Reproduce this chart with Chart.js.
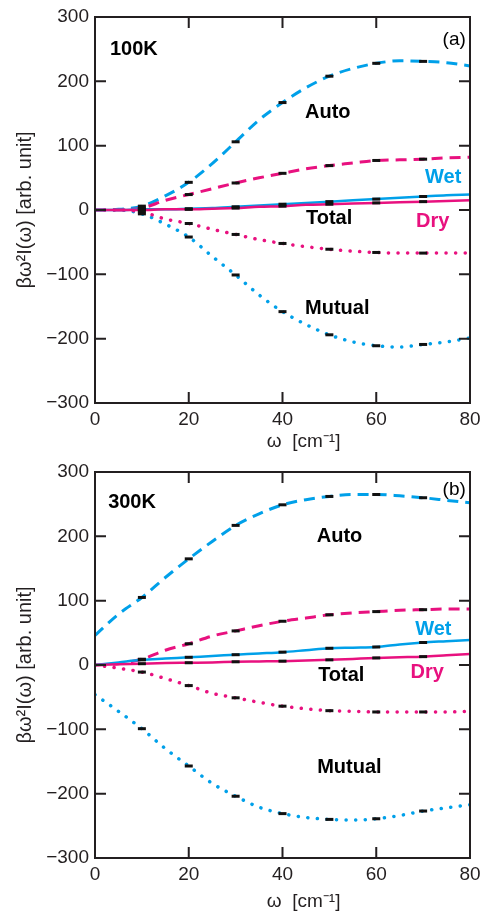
<!DOCTYPE html>
<html>
<head>
<meta charset="utf-8">
<script src="https://cdn.jsdelivr.net/npm/chart.js@4.4.0/dist/chart.umd.min.js"></script>
<style>
  html, body { margin: 0; padding: 0; background: #fff; }
  #wrap { position: relative; width: 480px; height: 915px; overflow: hidden; }
  .panel { position: absolute; left: 0; width: 480px; }
</style>
</head>
<body>
<div id="wrap">
  <div class="panel" style="top:0"><canvas id="chartA" width="480" height="455"></canvas></div>
  <div class="panel" style="top:455px"><canvas id="chartB" width="480" height="460"></canvas></div>
</div>
<script>
// frequency grid (cm-1)
const OMEGA = [0, 5, 10, 15, 20, 25, 30, 35, 40, 45, 50, 55, 60, 65, 70, 75, 80];
// points where the error bars sit
const ERR_OMEGA = [10, 20, 30, 40, 50, 60, 70];

// (a) 100K
const AUTO_WET_100   = [0, 1, 6, 22, 43, 72, 106, 140, 167, 190, 208, 220, 228, 232, 231, 229, 224];
const AUTO_DRY_100   = [0, 0, 3, 15, 24, 33, 42, 50, 57, 64, 69, 73, 77, 78, 79, 81, 82];
const TOTAL_WET_100  = [0, 0, 1, 1, 2, 3, 5, 7, 9, 11, 13, 15, 17, 19, 21, 23, 24];
const TOTAL_DRY_100  = [0, 0, 0, 1, 1, 2, 3, 5, 6, 8, 9, 10, 11, 12, 13, 14, 15];
const MUTUAL_DRY_100 = [0, 0, -3, -14, -21, -30, -38, -46, -52, -57, -61, -64, -66, -67, -67, -67, -67];
const MUTUAL_WET_100 = [0, 0, -6, -22, -42, -72, -101, -132, -158, -178, -194, -205, -211, -213, -209, -205, -199];

// (b) 300K
const AUTO_WET_300   = [46, 79, 105, 136, 165, 192, 217, 235, 249, 257, 262, 265, 265, 263, 260, 256, 252];
const AUTO_DRY_300   = [0, 2, 9, 23, 33, 45, 53, 61, 68, 73, 78, 81, 83, 85, 86, 87, 87];
const TOTAL_WET_300  = [0, 4, 8, 10, 12, 14, 16, 18, 20, 23, 26, 27, 28, 32, 35, 37, 39];
const TOTAL_DRY_300  = [0, 1, 2, 3, 3.5, 4, 5, 5.5, 6, 7, 8, 9.5, 11, 12, 13, 15, 17];
const MUTUAL_DRY_300 = [0, -5, -11, -21, -32, -44, -51, -58, -64, -68, -71, -72, -73, -73, -73, -73, -72];
const MUTUAL_WET_300 = [-46, -72, -99, -130, -157, -184, -204, -221, -231, -237, -240, -241, -239, -234, -227, -222, -217];

const X_TICKS = [0, 20, 40, 60, 80];
const Y_TICKS = [-300, -200, -100, 0, 100, 200, 300];

const INK = '#231f20';
const BLUE = '#00a0e9';
const PINK = '#e8117f';
const FONT = '"Liberation Sans", Arial, sans-serif';

Chart.defaults.font.family = FONT;
Chart.defaults.color = INK;

function toXY(vals) {
    return OMEGA.map((w, i) => ({ x: w, y: vals[i] }));
}

// black error-bar caps taken from the curves
function errorPoints(seriesList) {
    const pts = [];
    seriesList.forEach(vals => {
        ERR_OMEGA.forEach(w => {
            pts.push({ x: w, y: vals[OMEGA.indexOf(w)] });
        });
    });
    return pts;
}

function line(vals, color, kind) {
    const ds = {
        data: toXY(vals),
        showLine: true,
        borderColor: color,
        backgroundColor: color,
        pointRadius: 0,
        cubicInterpolationMode: 'monotone',
        borderWidth: 2.5,
        fill: false
    };
    if (kind === 'dash') {
        ds.borderDash = [11, 7];
        ds.borderWidth = 3;
    } else if (kind === 'dot') {
        ds.borderDash = [0.1, 9.5];
        ds.borderCapStyle = 'round';
        ds.borderWidth = 3.5;
    }
    return ds;
}

// frame with inward ticks on all four sides + text labels
const framePlugin = {
    id: 'frame',
    afterDatasetsDraw(chart, args, opts) {
        const { ctx, chartArea: a, scales: { x, y } } = chart;
        ctx.save();
        ctx.strokeStyle = INK;
        ctx.lineWidth = 2;
        ctx.strokeRect(a.left, a.top, a.right - a.left, a.bottom - a.top);
        ctx.beginPath();
        X_TICKS.forEach(v => {
            const px = x.getPixelForValue(v);
            ctx.moveTo(px, a.bottom); ctx.lineTo(px, a.bottom - 11);
            ctx.moveTo(px, a.top); ctx.lineTo(px, a.top + 11);
        });
        Y_TICKS.forEach(v => {
            const py = y.getPixelForValue(v);
            ctx.moveTo(a.left, py); ctx.lineTo(a.left + 11, py);
            ctx.moveTo(a.right, py); ctx.lineTo(a.right - 11, py);
        });
        ctx.stroke();

        ctx.textBaseline = 'middle';
        (opts.labels || []).forEach(l => {
            ctx.font = (l.bold === false ? '' : 'bold ') + (l.size || 20) + 'px ' + FONT;
            ctx.fillStyle = l.color || '#000';
            ctx.textAlign = l.align || 'left';
            ctx.fillText(l.text, x.getPixelForValue(l.x), y.getPixelForValue(l.y));
        });
        ctx.restore();
    }
};

function makeChart(id, s, labels, xAxisHeight) {
    const datasets = [
        {
            data: errorPoints([s.autoWet, s.autoDry, s.totalWet, s.totalDry, s.mutualDry, s.mutualWet]),
            showLine: false,
            pointStyle: 'line',
            pointRadius: 4,
            pointHoverRadius: 4,
            borderColor: '#111',
            borderWidth: 3
        },
        line(s.totalDry, PINK, 'solid'),
        line(s.totalWet, BLUE, 'solid'),
        line(s.autoDry, PINK, 'dash'),
        line(s.mutualDry, PINK, 'dot'),
        line(s.autoWet, BLUE, 'dash'),
        line(s.mutualWet, BLUE, 'dot')
    ];

    return new Chart(document.getElementById(id), {
        type: 'scatter',
        data: { datasets },
        options: {
            responsive: false,
            animation: false,
            devicePixelRatio: 1,
            layout: { padding: { top: 17, right: 10, bottom: 0, left: 0 } },
            plugins: {
                legend: { display: false },
                tooltip: { enabled: false },
                frame: { labels }
            },
            scales: {
                x: {
                    type: 'linear',
                    min: 0, max: 80,
                    afterBuildTicks(scale) { scale.ticks = X_TICKS.map(v => ({ value: v })); },
                    ticks: { padding: 5, color: INK, font: { size: 19 } },
                    grid: { display: false, drawTicks: false },
                    border: { display: false },
                    title: {
                        display: true,
                        text: '\u00a0\u00a0\u00a0\u00a0\u00a0\u00a0\u00a0\u00a0ω  [cm⁻¹]',
                        color: INK,
                        font: { size: 19 },
                        padding: { top: 0, bottom: 2 }
                    },
                    afterFit(scale) {
                        scale.height = xAxisHeight;
                        scale.paddingLeft = 0;
                        scale.paddingRight = 0;
                    }
                },
                y: {
                    type: 'linear',
                    min: -300, max: 300,
                    afterBuildTicks(scale) { scale.ticks = Y_TICKS.map(v => ({ value: v })); },
                    ticks: {
                        padding: 6,
                        color: INK,
                        font: { size: 19 },
                        callback: v => (v < 0 ? '\u2212' + Math.abs(v) : String(v))
                    },
                    grid: { display: false, drawTicks: false },
                    border: { display: false },
                    title: {
                        display: true,
                        text: 'βω²I(ω) [arb. unit]',
                        color: INK,
                        font: { size: 20 },
                        padding: { top: 13, bottom: 0 }
                    },
                    afterFit(scale) {
                        scale.width = 95;
                        scale.paddingTop = 0;
                        scale.paddingBottom = 0;
                    }
                }
            }
        },
        plugins: [framePlugin]
    });
}

makeChart('chartA', {
    autoWet: AUTO_WET_100, autoDry: AUTO_DRY_100,
    totalWet: TOTAL_WET_100, totalDry: TOTAL_DRY_100,
    mutualWet: MUTUAL_WET_100, mutualDry: MUTUAL_DRY_100
}, [
    { text: '100K', x: 3.2, y: 249 },
    { text: '(a)', x: 79.1, y: 264, bold: false, size: 19, align: 'right' },
    { text: 'Auto', x: 44.8, y: 152 },
    { text: 'Wet', x: 70.4, y: 50, color: BLUE },
    { text: 'Total', x: 45, y: -13.5 },
    { text: 'Dry', x: 68.5, y: -18, color: PINK },
    { text: 'Mutual', x: 44.8, y: -153 }
], 52);

makeChart('chartB', {
    autoWet: AUTO_WET_300, autoDry: AUTO_DRY_300,
    totalWet: TOTAL_WET_300, totalDry: TOTAL_DRY_300,
    mutualWet: MUTUAL_WET_300, mutualDry: MUTUAL_DRY_300
}, [
    { text: '300K', x: 2.8, y: 253 },
    { text: '(b)', x: 79.1, y: 273, bold: false, size: 19, align: 'right' },
    { text: 'Auto', x: 47.3, y: 200 },
    { text: 'Wet', x: 68.3, y: 55, color: BLUE },
    { text: 'Total', x: 47.6, y: -16 },
    { text: 'Dry', x: 67.3, y: -12, color: PINK },
    { text: 'Mutual', x: 47.4, y: -160 }
], 57);
</script>
</body>
</html>
